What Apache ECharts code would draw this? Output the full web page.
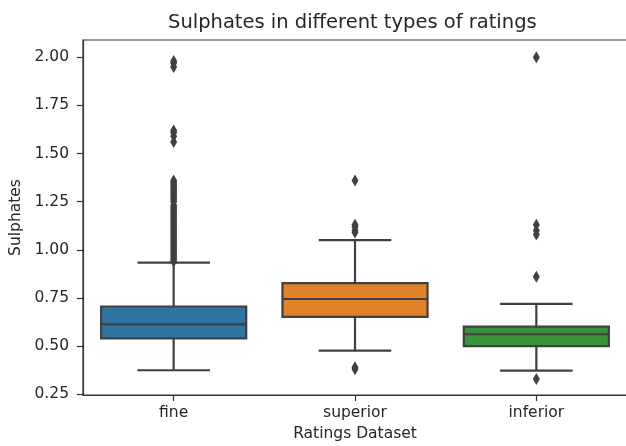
<!DOCTYPE html>
<html>
<head>
<meta charset="utf-8">
<script src="https://cdn.jsdelivr.net/npm/echarts@6/dist/echarts.min.js"></script>
<style>
  html, body { margin: 0; padding: 0; background: #ffffff; }
  #chart { width: 626px; height: 446px; }
</style>
</head>
<body>
<div id="chart"></div>
<script>
// Rating groups on the x axis
const categories = ['fine', 'superior', 'inferior'];

// Box summaries per group: [lower whisker, Q1, median, Q3, upper whisker]
const fineBox = [0.375, 0.541, 0.613, 0.706, 0.934];
const superiorBox = [0.477, 0.652, 0.745, 0.827, 1.051];
const inferiorBox = [0.373, 0.50, 0.562, 0.602, 0.72];

// Points beyond the whiskers
const fineOutliers = [
  1.98, 1.97, 1.95,
  1.62, 1.61, 1.59, 1.56,
  1.36, 1.35, 1.34, 1.33, 1.32, 1.31, 1.30, 1.29, 1.28, 1.27, 1.26, 1.25,
  1.23, 1.22, 1.21, 1.20, 1.19, 1.18, 1.17, 1.16, 1.15, 1.14, 1.13, 1.12,
  1.11, 1.10, 1.09, 1.08, 1.07, 1.06, 1.05, 1.04, 1.03, 1.02, 1.01, 1.00,
  0.99, 0.98, 0.97, 0.96, 0.95, 0.94
];
const superiorOutliers = [1.36, 1.13, 1.12, 1.10, 1.09, 0.39, 0.38];
const inferiorOutliers = [2.00, 1.13, 1.10, 1.08, 0.86, 0.33];

// Value axis tick labels
const yTicks = [0.25, 0.50, 0.75, 1.00, 1.25, 1.50, 1.75, 2.00];

const boxColors = ['#3274a1', '#e1812c', '#3a923a'];
const lineGray = '#404040';
const inkColor = '#262626';
const fontFamily = 'DejaVu Sans';

const boxes = [fineBox, superiorBox, inferiorBox];
const boxData = boxes.map((b, i) => [i].concat(b));
const outlierData = [];
[fineOutliers, superiorOutliers, inferiorOutliers].forEach((list, i) => {
  list.forEach(v => outlierData.push([i, v]));
});

// Seaborn-style box: filled IQR box, median bar, whiskers with half-width caps
function renderBox(params, api) {
  const idx = api.value(0);
  const band = api.size([1, 0])[0];
  const boxW = band * 0.8;
  const capW = boxW * 0.5;
  const pLow = api.coord([idx, api.value(1)]);
  const pQ1 = api.coord([idx, api.value(2)]);
  const pMed = api.coord([idx, api.value(3)]);
  const pQ3 = api.coord([idx, api.value(4)]);
  const pHigh = api.coord([idx, api.value(5)]);
  const cx = pMed[0];
  const lineStyle = { stroke: lineGray, lineWidth: 2.2, fill: null };
  return {
    type: 'group',
    children: [
      { type: 'line', shape: { x1: cx, y1: pQ3[1], x2: cx, y2: pHigh[1] }, style: lineStyle },
      { type: 'line', shape: { x1: cx, y1: pQ1[1], x2: cx, y2: pLow[1] }, style: lineStyle },
      { type: 'line', shape: { x1: cx - capW / 2, y1: pHigh[1], x2: cx + capW / 2, y2: pHigh[1] }, style: lineStyle },
      { type: 'line', shape: { x1: cx - capW / 2, y1: pLow[1], x2: cx + capW / 2, y2: pLow[1] }, style: lineStyle },
      {
        type: 'rect',
        shape: { x: cx - boxW / 2, y: pQ3[1], width: boxW, height: pQ1[1] - pQ3[1] },
        style: { fill: boxColors[idx], stroke: lineGray, lineWidth: 2.2 }
      },
      { type: 'line', shape: { x1: cx - boxW / 2, y1: pMed[1], x2: cx + boxW / 2, y2: pMed[1] }, style: lineStyle }
    ]
  };
}

const chart = echarts.init(document.getElementById('chart'), null, { renderer: 'canvas' });

chart.setOption({
  animation: false,
  backgroundColor: '#ffffff',
  textStyle: { fontFamily: fontFamily },
  title: {
    text: 'Sulphates in different types of ratings',
    left: 168,
    top: 13,
    padding: 0,
    textStyle: { fontFamily: fontFamily, fontSize: 19.5, fontWeight: 'normal', color: inkColor }
  },
  grid: {
    left: 83,
    top: 40,
    width: 544,
    height: 355,
    containLabel: false,
    outerBoundsMode: 'none',
    show: true,
    borderColor: '#333333',
    borderWidth: 1.2,
    backgroundColor: 'transparent'
  },
  xAxis: {
    type: 'category',
    data: categories,
    name: 'Ratings Dataset',
    nameLocation: 'middle',
    nameGap: 26,
    nameTextStyle: { fontFamily: fontFamily, fontSize: 15.5, color: inkColor },
    axisLine: { show: true, lineStyle: { color: '#333333', width: 1.2 } },
    axisTick: { show: true, alignWithLabel: true, length: 6, lineStyle: { color: '#333333', width: 1.2 } },
    axisLabel: { fontFamily: fontFamily, fontSize: 15.5, color: inkColor, margin: 10 },
    splitLine: { show: false }
  },
  yAxis: {
    type: 'value',
    min: 0.2465,
    max: 2.0896,
    name: 'Sulphates',
    nameLocation: 'middle',
    nameRotate: 90,
    nameGap: 57,
    nameTextStyle: { fontFamily: fontFamily, fontSize: 15.5, color: inkColor },
    axisLine: { show: true, lineStyle: { color: '#333333', width: 1.2 } },
    axisTick: { show: true, length: 6, customValues: yTicks, lineStyle: { color: '#333333', width: 1.2 } },
    axisLabel: {
      fontFamily: fontFamily, fontSize: 15.5, color: inkColor, margin: 14,
      customValues: yTicks,
      formatter: v => Number(v).toFixed(2)
    },
    splitLine: { show: false }
  },
  series: [
    {
      type: 'custom',
      renderItem: renderBox,
      data: boxData,
      encode: { x: 0, y: [1, 2, 3, 4, 5] },
      z: 2
    },
    {
      type: 'scatter',
      data: outlierData,
      symbol: 'diamond',
      symbolSize: [7, 12],
      itemStyle: { color: lineGray, opacity: 1 },
      z: 3
    }
  ]
});
</script>
</body>
</html>
